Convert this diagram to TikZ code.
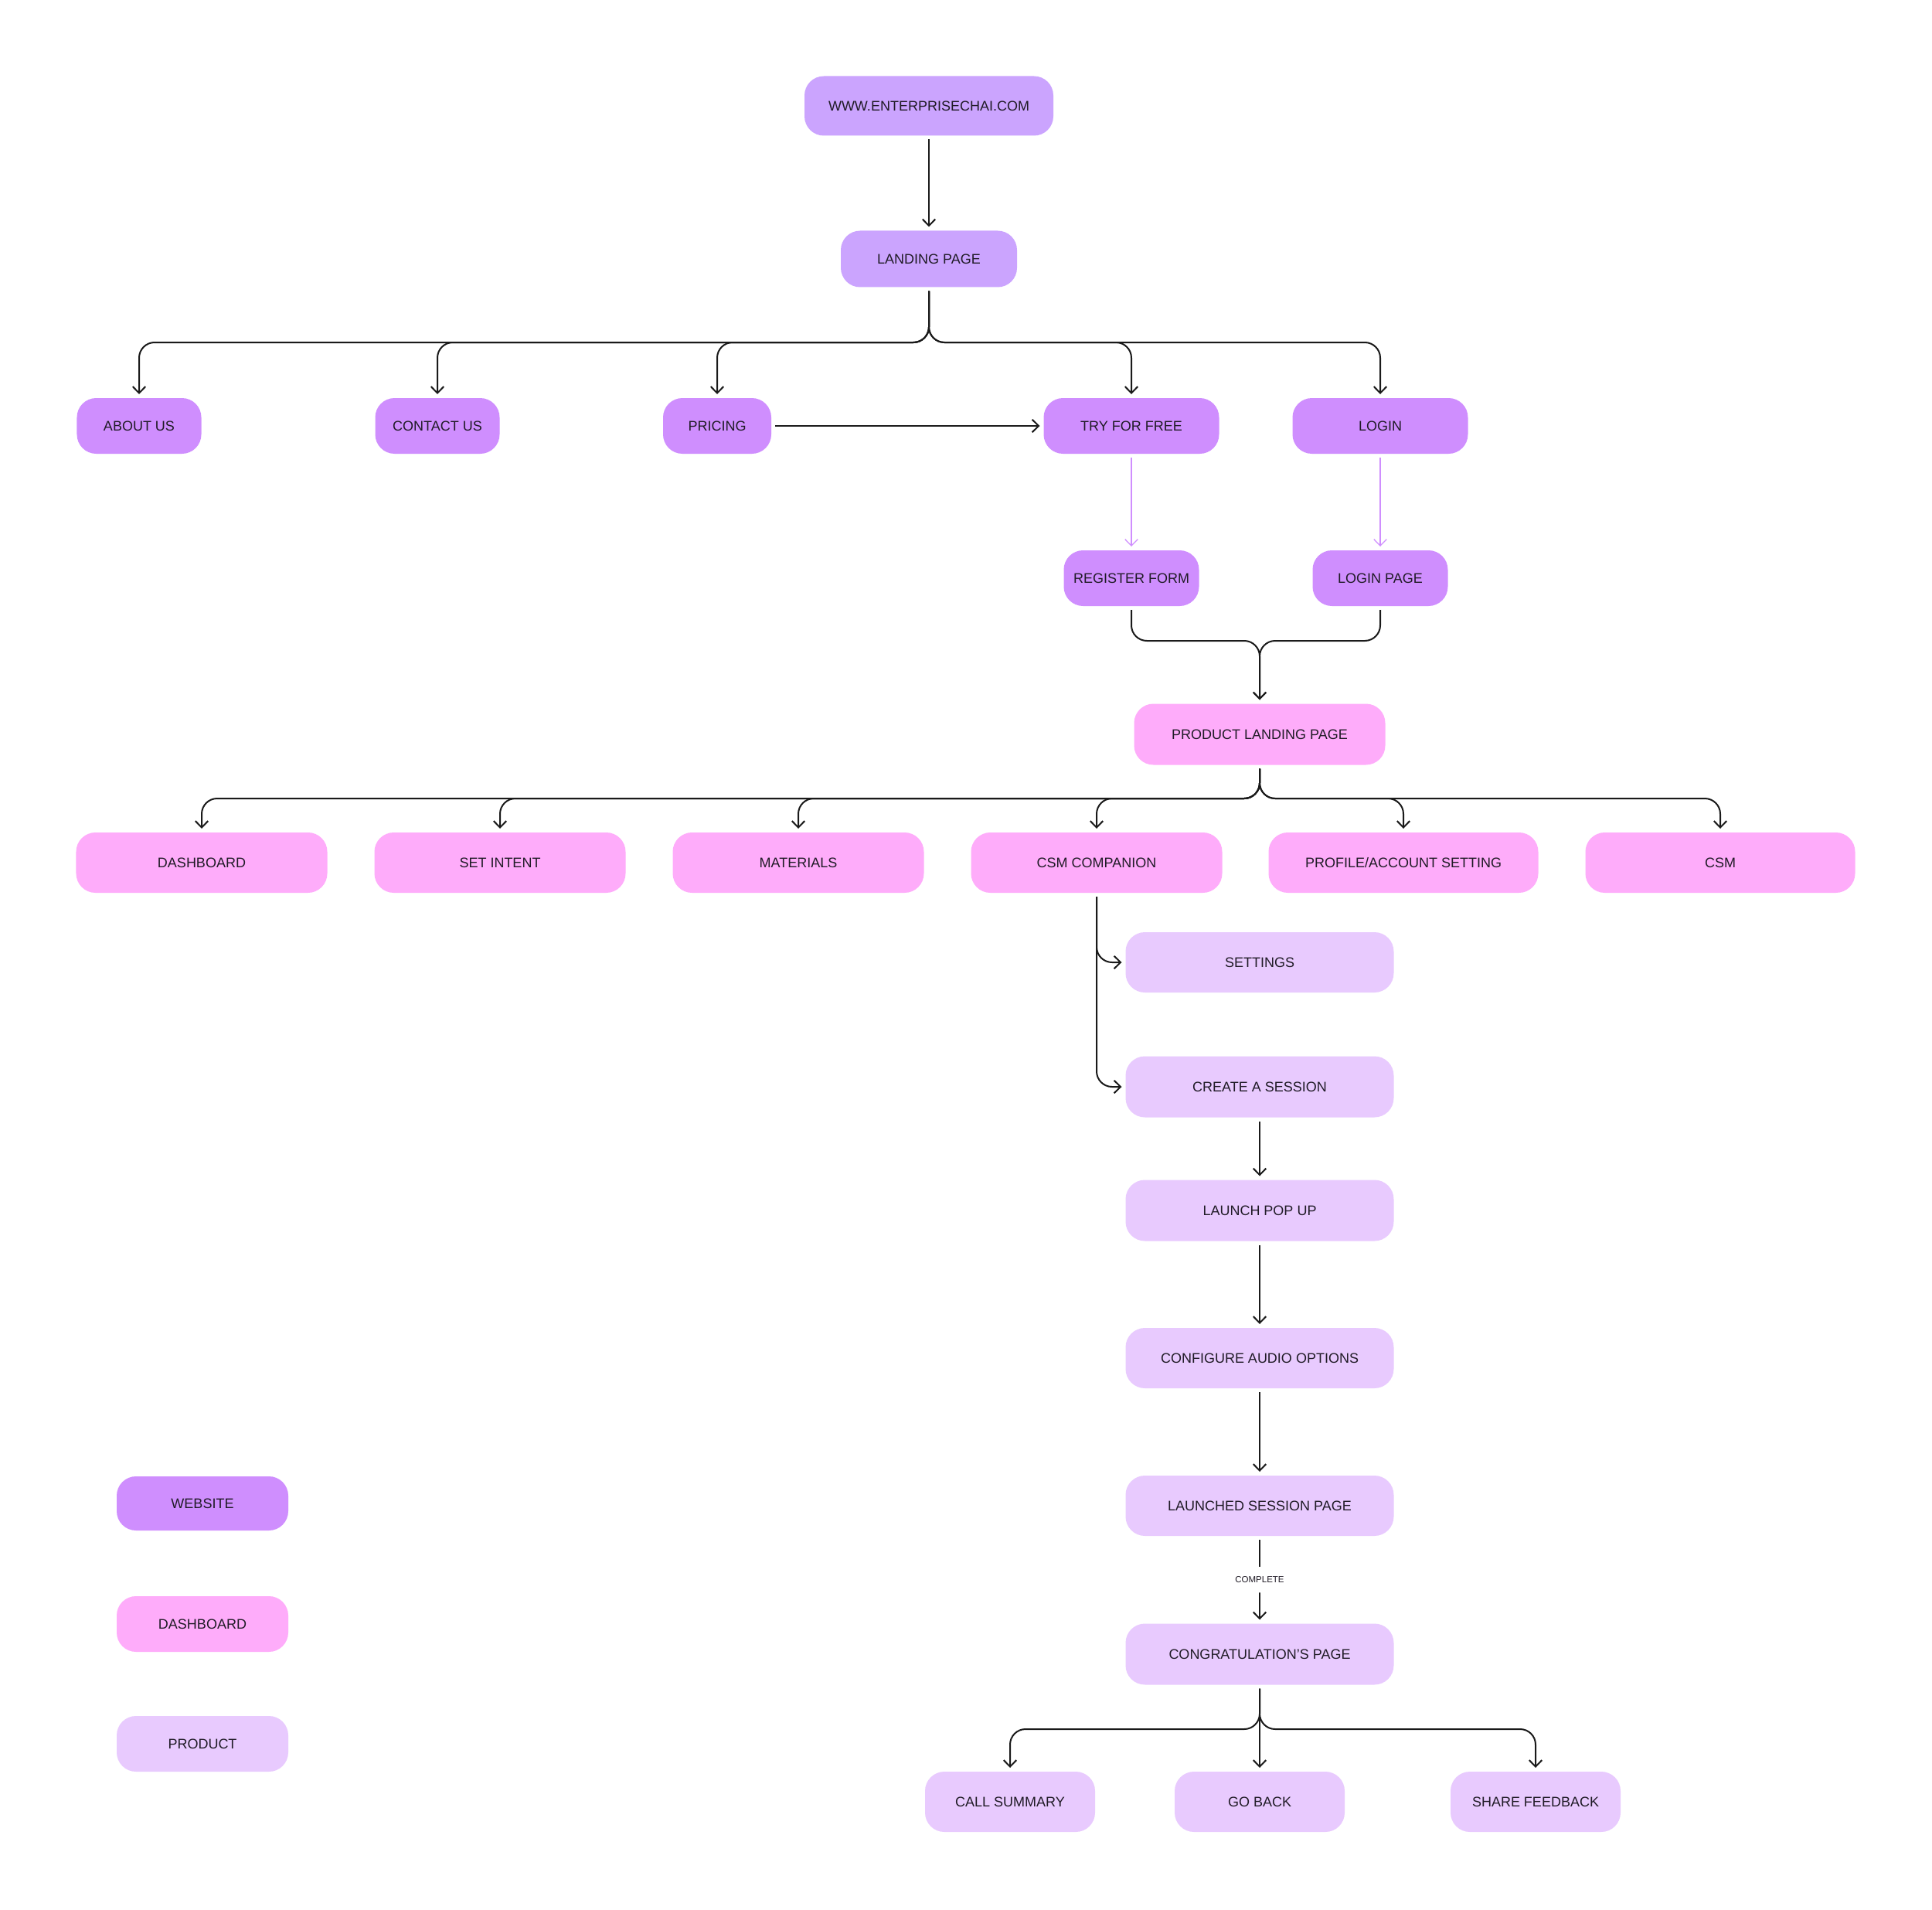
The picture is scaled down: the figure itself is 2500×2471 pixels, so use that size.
\documentclass[tikz,border=0pt]{standalone}
\usepackage{fontspec}
\setmainfont{Liberation Sans}
\usetikzlibrary{arrows.meta}
\definecolor{webtop}{HTML}{CBA4FE}
\definecolor{web}{HTML}{CF8EFE}
\definecolor{dashc}{HTML}{FEACFA}
\definecolor{prodc}{HTML}{E8CAFE}
\definecolor{txt}{HTML}{201B26}
\definecolor{lnc}{HTML}{1A1A1A}
\newcommand{\nfont}{\fontsize{7.2}{8.6}\selectfont}
\tikzset{
  box/.style={rounded corners=10pt, inner sep=0pt, outer sep=2pt, text=txt, font=\nfont, align=center},
  topbox/.style={box, fill=webtop},
  webbox/.style={box, fill=web},
  dashbox/.style={box, fill=dashc},
  prodbox/.style={box, fill=prodc},
  arr/.style={draw=lnc, line width=0.8pt, rounded corners=8pt, -{Straight Barb[length=3.4pt,width=6.6pt,line width=0.8pt]}},
  parr/.style={draw=web, line width=0.5pt, -{Straight Barb[length=3.4pt,width=6.6pt,line width=0.5pt]}},
}
\begin{document}
\begin{tikzpicture}[x=0.4pt,y=-0.4pt]
\useasboundingbox[fill=white] (0,0) rectangle (2500,2471);
% website
\node[topbox, minimum width=128.8pt, minimum height=30.8pt] (www) at (1202,137) {WWW.ENTERPRISECHAI.COM};
\node[topbox, minimum width=91.2pt, minimum height=29.2pt] (landing) at (1202,335) {LANDING PAGE};
\node[webbox, minimum width=64.4pt, minimum height=28.8pt] (about) at (180,551) {ABOUT US};
\node[webbox, minimum width=64.4pt, minimum height=28.8pt] (contact) at (566,551) {CONTACT US};
\node[webbox, minimum width=56pt, minimum height=28.8pt] (pricing) at (928,551) {PRICING};
\node[webbox, minimum width=90.8pt, minimum height=28.8pt] (try) at (1464,551) {TRY FOR FREE};
\node[webbox, minimum width=90.8pt, minimum height=28.8pt] (login) at (1786,551) {LOGIN};
\node[webbox, minimum width=70pt, minimum height=28.8pt] (reg) at (1464,748) {REGISTER FORM};
\node[webbox, minimum width=70pt, minimum height=28.8pt] (loginpage) at (1786,748) {LOGIN PAGE};
% dashboard
\node[dashbox, minimum width=130pt, minimum height=31.6pt] (pland) at (1630,950) {PRODUCT LANDING PAGE};
\node[dashbox, minimum width=130pt, minimum height=31.2pt] (dashb) at (261,1116) {DASHBOARD};
\node[dashbox, minimum width=130pt, minimum height=31.2pt] (setint) at (647,1116) {SET INTENT};
\node[dashbox, minimum width=130pt, minimum height=31.2pt] (mat) at (1033,1116) {MATERIALS};
\node[dashbox, minimum width=130pt, minimum height=31.2pt] (csmc) at (1419,1116) {CSM COMPANION};
\node[dashbox, minimum width=139.6pt, minimum height=31.2pt] (prof) at (1816,1116) {PROFILE/ACCOUNT SETTING};
\node[dashbox, minimum width=139.6pt, minimum height=31.2pt] (csm) at (2226,1116) {CSM};
% product
\node[prodbox, minimum width=138.8pt, minimum height=31.2pt] (settings) at (1630,1245) {SETTINGS};
\node[prodbox, minimum width=138.8pt, minimum height=31.6pt] (create) at (1630,1406) {CREATE A SESSION};
\node[prodbox, minimum width=138.8pt, minimum height=31.6pt] (launch) at (1630,1566) {LAUNCH POP UP};
\node[prodbox, minimum width=138.8pt, minimum height=31.2pt] (config) at (1630,1757) {CONFIGURE AUDIO OPTIONS};
\node[prodbox, minimum width=138.8pt, minimum height=31.2pt] (launched) at (1630,1948) {LAUNCHED SESSION PAGE};
\node[prodbox, minimum width=138.8pt, minimum height=31.6pt] (congrats) at (1630,2140) {CONGRATULATION’S PAGE};
\node[prodbox, minimum width=88pt, minimum height=31.2pt] (callsum) at (1307,2331) {CALL SUMMARY};
\node[prodbox, minimum width=88pt, minimum height=31.2pt] (goback) at (1630,2331) {GO BACK};
\node[prodbox, minimum width=88pt, minimum height=31.2pt] (share) at (1987,2331) {SHARE FEEDBACK};
% legend
\node[webbox, minimum width=88.8pt, minimum height=28pt] (lweb) at (262,1945) {WEBSITE};
\node[dashbox, minimum width=88.8pt, minimum height=28.8pt] (ldash) at (262,2101) {DASHBOARD};
\node[prodbox, minimum width=88.8pt, minimum height=28.8pt] (lprod) at (262,2256) {PRODUCT};
% branch points
\coordinate (b1) at (1202,443);
\coordinate (m1) at (1630,829);
\coordinate (b2) at (1630,1033);
\coordinate (b3) at (1630,2237);
% connectors
\draw[arr] (www) -- (landing);
\foreach \t in {about,contact,pricing,try,login}
  \draw[arr] (landing.south) -- (b1) -| (\t.north);
\draw[arr] (pricing) -- (try);
\draw[parr] (try) -- (reg);
\draw[parr] (login) -- (loginpage);
\draw[arr] (reg.south) |- (m1) -- (pland.north);
\draw[arr] (loginpage.south) |- (m1) -- (pland.north);
\foreach \t in {dashb,setint,mat,csmc,prof,csm}
  \draw[arr] (pland.south) -- (b2) -| (\t.north);
\draw[arr] (csmc.south) |- (settings.west);
\draw[arr] (csmc.south) |- (create.west);
\draw[arr] (create) -- (launch);
\draw[arr] (launch) -- (config);
\draw[arr] (config) -- (launched);
\draw[arr] (launched) -- node[fill=white, text=txt, font=\fontsize{4.6}{5.5}\selectfont, inner xsep=1pt, inner ysep=5pt] (lbl) {COMPLETE} (congrats);
\draw[arr] (congrats) -- (goback);
\draw[arr] (congrats.south) -- (b3) -| (callsum.north);
\draw[arr] (congrats.south) -- (b3) -| (share.north);
\end{tikzpicture}
\end{document}
